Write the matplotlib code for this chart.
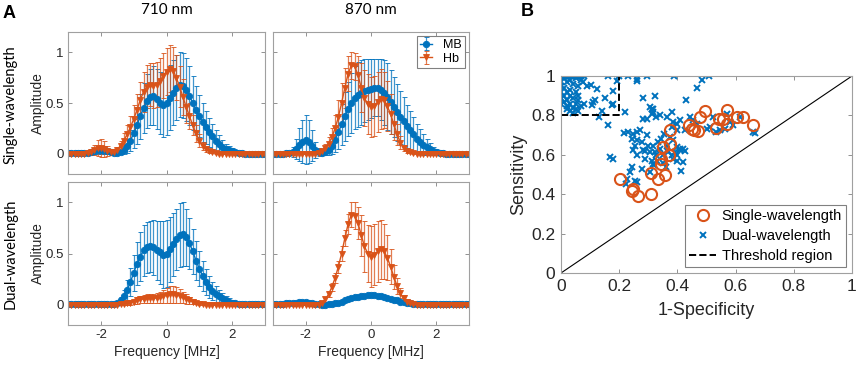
import numpy as np
from matplotlib import pyplot as plt

# colours (matlab defaults)
BLUE = "#0072BD"
ORANGE = "#D95319"
W, H = 858, 366

# frequency grid [MHz], 0.1 MHz steps
freq = np.linspace(-3, 3, 61)

# --- panel A data: mean amplitude and std per frequency ---
# 710 nm, single-wavelength
mb_710_single = [0.01, 0.01, 0.01, 0.01, 0.01, 0.01, 0.01, 0.02, 0.03, 0.04,
                 0.04, 0.04, 0.03, 0.02, 0.01, 0.01, 0.02, 0.04, 0.08, 0.13,
                 0.20, 0.28, 0.37, 0.45, 0.52, 0.56, 0.57, 0.54, 0.50, 0.48,
                 0.50, 0.55, 0.60, 0.65, 0.68, 0.67, 0.63, 0.57, 0.50, 0.43,
                 0.37, 0.31, 0.26, 0.21, 0.17, 0.13, 0.10, 0.07, 0.05, 0.04,
                 0.03, 0.02, 0.01, 0.01, 0.0, 0.0, 0.0, 0.0, 0.0, 0.0, 0.0]
mb_710_single_err = [0.005, 0.005, 0.005, 0.005, 0.005, 0.005, 0.01, 0.02, 0.03, 0.04,
                     0.04, 0.04, 0.03, 0.02, 0.01, 0.01, 0.02, 0.04, 0.07, 0.10,
                     0.14, 0.18, 0.22, 0.25, 0.27, 0.28, 0.29, 0.30, 0.31, 0.32,
                     0.32, 0.32, 0.32, 0.32, 0.32, 0.32, 0.31, 0.29, 0.27, 0.24,
                     0.21, 0.19, 0.16, 0.14, 0.12, 0.10, 0.08, 0.07, 0.05, 0.04,
                     0.03, 0.02, 0.01, 0.01, 0.005, 0.005, 0.005, 0.005, 0.005, 0.005, 0.005]
hb_710_single = [0.0, 0.0, 0.0, 0.0, 0.0, 0.0, 0.01, 0.02, 0.04, 0.06,
                 0.06, 0.05, 0.03, 0.02, 0.02, 0.04, 0.08, 0.13, 0.19, 0.26,
                 0.34, 0.43, 0.53, 0.61, 0.66, 0.68, 0.67, 0.68, 0.72, 0.77,
                 0.81, 0.84, 0.82, 0.75, 0.66, 0.56, 0.46, 0.37, 0.28, 0.20,
                 0.13, 0.08, 0.05, 0.03, 0.02, 0.01, 0.0, 0.0, 0.0, 0.0,
                 0.0, 0.0, 0.0, 0.0, 0.0, 0.0, 0.0, 0.0, 0.0, 0.0, 0.0]
hb_710_single_err = [0.005, 0.005, 0.005, 0.005, 0.005, 0.005, 0.01, 0.03, 0.05, 0.08,
                     0.09, 0.08, 0.05, 0.03, 0.02, 0.03, 0.05, 0.07, 0.09, 0.11,
                     0.14, 0.16, 0.18, 0.20, 0.21, 0.21, 0.22, 0.22, 0.22, 0.22,
                     0.23, 0.23, 0.23, 0.22, 0.20, 0.18, 0.16, 0.13, 0.10, 0.08,
                     0.06, 0.04, 0.03, 0.02, 0.01, 0.01, 0.005, 0.005, 0.005, 0.005,
                     0.005, 0.005, 0.005, 0.005, 0.005, 0.005, 0.005, 0.005, 0.005, 0.005, 0.005]

# 870 nm, single-wavelength
mb_870_single = [0.0, 0.0, 0.0, 0.0, 0.01, 0.01, 0.02, 0.05, 0.09, 0.12,
                 0.14, 0.12, 0.08, 0.04, 0.02, 0.01, 0.02, 0.04, 0.08, 0.14,
                 0.21, 0.29, 0.37, 0.44, 0.50, 0.55, 0.58, 0.60, 0.62, 0.63,
                 0.64, 0.65, 0.65, 0.63, 0.60, 0.56, 0.51, 0.46, 0.41, 0.36,
                 0.32, 0.27, 0.23, 0.19, 0.15, 0.12, 0.09, 0.07, 0.05, 0.03,
                 0.02, 0.01, 0.01, 0.0, 0.0, 0.0, 0.0, 0.0, 0.0, 0.0, 0.0]
mb_870_single_err = [0.005, 0.005, 0.005, 0.005, 0.01, 0.02, 0.05, 0.10, 0.16, 0.21,
                     0.24, 0.21, 0.15, 0.08, 0.04, 0.02, 0.03, 0.05, 0.08, 0.12,
                     0.16, 0.20, 0.24, 0.27, 0.30, 0.31, 0.32, 0.32, 0.31, 0.30,
                     0.29, 0.28, 0.28, 0.30, 0.32, 0.33, 0.32, 0.30, 0.28, 0.26,
                     0.24, 0.21, 0.19, 0.17, 0.14, 0.12, 0.10, 0.08, 0.06, 0.04,
                     0.03, 0.02, 0.01, 0.005, 0.005, 0.005, 0.005, 0.005, 0.005, 0.005, 0.005]
hb_870_single = [0.0, 0.0, 0.0, 0.0, 0.0, 0.0, 0.0, 0.0, 0.0, 0.0,
                 0.0, 0.0, 0.0, 0.0, 0.01, 0.03, 0.06, 0.10, 0.16, 0.25,
                 0.36, 0.50, 0.65, 0.79, 0.87, 0.86, 0.78, 0.65, 0.55, 0.49,
                 0.46, 0.47, 0.51, 0.54, 0.53, 0.47, 0.39, 0.29, 0.19, 0.11,
                 0.06, 0.03, 0.02, 0.01, 0.0, 0.0, 0.0, 0.0, 0.0, 0.0,
                 0.0, 0.0, 0.0, 0.0, 0.0, 0.0, 0.0, 0.0, 0.0, 0.0, 0.0]
hb_870_single_err = [0.005, 0.005, 0.005, 0.005, 0.005, 0.005, 0.005, 0.005, 0.005, 0.005,
                     0.005, 0.005, 0.005, 0.005, 0.01, 0.02, 0.04, 0.06, 0.09, 0.13,
                     0.17, 0.20, 0.20, 0.17, 0.13, 0.13, 0.18, 0.24, 0.28, 0.30,
                     0.30, 0.30, 0.30, 0.30, 0.28, 0.25, 0.20, 0.15, 0.10, 0.06,
                     0.03, 0.02, 0.01, 0.01, 0.005, 0.005, 0.005, 0.005, 0.005, 0.005,
                     0.005, 0.005, 0.005, 0.005, 0.005, 0.005, 0.005, 0.005, 0.005, 0.005, 0.005]

# 710 nm, dual-wavelength
mb_710_dual = [0.01, 0.01, 0.01, 0.01, 0.01, 0.01, 0.01, 0.01, 0.01, 0.01,
               0.01, 0.01, 0.01, 0.01, 0.01, 0.02, 0.04, 0.08, 0.14, 0.22,
               0.31, 0.40, 0.47, 0.53, 0.56, 0.57, 0.56, 0.53, 0.51, 0.49,
               0.50, 0.54, 0.59, 0.64, 0.68, 0.69, 0.66, 0.60, 0.52, 0.43,
               0.35, 0.28, 0.22, 0.17, 0.13, 0.10, 0.08, 0.06, 0.04, 0.03,
               0.02, 0.02, 0.01, 0.01, 0.01, 0.01, 0.01, 0.01, 0.01, 0.01, 0.01]
mb_710_dual_err = [0.005, 0.005, 0.005, 0.005, 0.005, 0.005, 0.005, 0.005, 0.005, 0.005,
                   0.005, 0.005, 0.005, 0.005, 0.005, 0.01, 0.03, 0.06, 0.10, 0.14,
                   0.18, 0.21, 0.24, 0.25, 0.25, 0.25, 0.27, 0.29, 0.31, 0.33,
                   0.33, 0.32, 0.31, 0.30, 0.31, 0.31, 0.28, 0.25, 0.22, 0.19,
                   0.17, 0.15, 0.13, 0.11, 0.09, 0.08, 0.06, 0.05, 0.04, 0.03,
                   0.02, 0.01, 0.01, 0.005, 0.005, 0.005, 0.005, 0.005, 0.005, 0.005, 0.005]
hb_710_dual = [0.0, 0.0, 0.0, 0.0, 0.0, 0.0, 0.0, 0.0, 0.0, 0.0,
               0.0, 0.0, 0.0, 0.0, 0.0, 0.0, 0.005, 0.01, 0.015, 0.02,
               0.03, 0.04, 0.05, 0.055, 0.06, 0.06, 0.06, 0.065, 0.07, 0.08,
               0.09, 0.10, 0.10, 0.095, 0.085, 0.07, 0.055, 0.04, 0.03, 0.02,
               0.01, 0.005, 0.0, 0.0, 0.0, 0.0, 0.0, 0.0, 0.0, 0.0,
               0.0, 0.0, 0.0, 0.0, 0.0, 0.0, 0.0, 0.0, 0.0, 0.0, 0.0]
hb_710_dual_err = [0.005, 0.005, 0.005, 0.005, 0.005, 0.005, 0.005, 0.005, 0.005, 0.005,
                   0.005, 0.005, 0.005, 0.005, 0.005, 0.005, 0.005, 0.01, 0.015, 0.02,
                   0.025, 0.03, 0.035, 0.04, 0.04, 0.04, 0.04, 0.045, 0.05, 0.06,
                   0.07, 0.08, 0.08, 0.075, 0.065, 0.055, 0.045, 0.035, 0.025, 0.015,
                   0.01, 0.005, 0.005, 0.005, 0.005, 0.005, 0.005, 0.005, 0.005, 0.005,
                   0.005, 0.005, 0.005, 0.005, 0.005, 0.005, 0.005, 0.005, 0.005, 0.005, 0.005]

# 870 nm, dual-wavelength
mb_870_dual = [0.01, 0.01, 0.01, 0.01, 0.015, 0.015, 0.02, 0.02, 0.025, 0.025,
               0.025, 0.02, 0.015, 0.01, 0.005, 0.0, 0.0, 0.005, 0.01, 0.015,
               0.02, 0.03, 0.04, 0.05, 0.06, 0.07, 0.075, 0.08, 0.085, 0.09,
               0.09, 0.09, 0.085, 0.08, 0.075, 0.065, 0.055, 0.045, 0.04, 0.03,
               0.025, 0.02, 0.015, 0.01, 0.01, 0.01, 0.01, 0.01, 0.01, 0.01,
               0.01, 0.01, 0.01, 0.01, 0.01, 0.01, 0.01, 0.01, 0.01, 0.01, 0.01]
mb_870_dual_err = [0.01, 0.01, 0.01, 0.01, 0.01, 0.01, 0.01, 0.01, 0.01, 0.01,
                   0.01, 0.01, 0.01, 0.01, 0.01, 0.01, 0.01, 0.01, 0.01, 0.01,
                   0.01, 0.01, 0.012, 0.012, 0.014, 0.014, 0.015, 0.015, 0.015, 0.015,
                   0.015, 0.015, 0.015, 0.015, 0.014, 0.014, 0.012, 0.012, 0.01, 0.01,
                   0.01, 0.01, 0.01, 0.01, 0.01, 0.01, 0.01, 0.01, 0.01, 0.01,
                   0.01, 0.01, 0.01, 0.01, 0.01, 0.01, 0.01, 0.01, 0.01, 0.01, 0.01]
hb_870_dual = [0.0, 0.0, 0.0, 0.0, 0.0, 0.0, 0.0, 0.0, 0.0, 0.0,
               0.0, 0.0, 0.0, 0.0, 0.0, 0.02, 0.05, 0.10, 0.17, 0.26,
               0.37, 0.50, 0.65, 0.79, 0.88, 0.87, 0.80, 0.68, 0.57, 0.50,
               0.47, 0.49, 0.52, 0.54, 0.52, 0.46, 0.37, 0.27, 0.18, 0.11,
               0.06, 0.03, 0.015, 0.005, 0.0, 0.0, 0.0, 0.0, 0.0, 0.0,
               0.0, 0.0, 0.0, 0.0, 0.0, 0.0, 0.0, 0.0, 0.0, 0.0, 0.0]
hb_870_dual_err = [0.005, 0.005, 0.005, 0.005, 0.005, 0.005, 0.005, 0.005, 0.005, 0.005,
                   0.005, 0.005, 0.005, 0.005, 0.005, 0.01, 0.02, 0.03, 0.04, 0.05,
                   0.06, 0.07, 0.08, 0.10, 0.12, 0.13, 0.16, 0.20, 0.25, 0.28,
                   0.30, 0.30, 0.30, 0.29, 0.27, 0.22, 0.17, 0.12, 0.08, 0.05,
                   0.03, 0.02, 0.01, 0.005, 0.005, 0.005, 0.005, 0.005, 0.005, 0.005,
                   0.005, 0.005, 0.005, 0.005, 0.005, 0.005, 0.005, 0.005, 0.005, 0.005, 0.005]

# --- panel B data: (1-specificity, sensitivity) ---
single_fpr = [0.203, 0.243, 0.248, 0.263, 0.309, 0.309, 0.334, 0.343, 0.345, 0.357,
              0.349, 0.371, 0.374, 0.374, 0.441, 0.449, 0.456, 0.471, 0.477, 0.494,
              0.534, 0.543, 0.557, 0.569, 0.572, 0.604, 0.627, 0.660]
single_tpr = [0.478, 0.415, 0.427, 0.393, 0.402, 0.508, 0.478, 0.554, 0.580, 0.495,
              0.639, 0.600, 0.656, 0.727, 0.749, 0.732, 0.724, 0.719, 0.792, 0.820,
              0.736, 0.783, 0.780, 0.758, 0.829, 0.792, 0.792, 0.753]

dual_fpr = [0.0, 0.005, 0.01, 0.015, 0.02, 0.025, 0.03, 0.035, 0.04, 0.045,
            0.05, 0.055, 0.06, 0.065, 0.07, 0.08, 0.16, 0.2, 0.231, 0.294,
            0.39, 0.51, 0.01, 0.03, 0.05, 0.07, 0.0, 0.02, 0.04, 0.06,
            0.0, 0.01, 0.03, 0.0, 0.02, 0.05, 0.01, 0.03, 0.0, 0.02,
            0.04, 0.06, 0.01, 0.03, 0.05, 0.0, 0.02, 0.04, 0.07, 0.08,
            0.05, 0.03, 0.06, 0.04, 0.02, 0.09, 0.06, 0.075, 0.11, 0.14,
            0.103, 0.122, 0.105, 0.117, 0.151, 0.13, 0.162, 0.18, 0.174, 0.177,
            0.191, 0.168, 0.177, 0.221, 0.262, 0.26, 0.283, 0.323, 0.311, 0.294,
            0.466, 0.483, 0.429, 0.217, 0.231, 0.248, 0.26, 0.243, 0.254, 0.248,
            0.26, 0.243, 0.254, 0.225, 0.26, 0.277, 0.283, 0.288, 0.294, 0.3,
            0.305, 0.311, 0.317, 0.305, 0.323, 0.328, 0.334, 0.34, 0.351, 0.363,
            0.368, 0.38, 0.386, 0.391, 0.397, 0.408, 0.42, 0.426, 0.414, 0.397,
            0.42, 0.386, 0.38, 0.363, 0.34, 0.328, 0.317, 0.305, 0.283, 0.271,
            0.311, 0.317, 0.397, 0.386, 0.38, 0.408, 0.426, 0.397, 0.443, 0.454,
            0.466, 0.5, 0.511, 0.523, 0.534, 0.546, 0.563, 0.569, 0.58, 0.592,
            0.614, 0.66, 0.666, 0.26, 0.277, 0.237, 0.228, 0.317, 0.343, 0.355,
            0.374, 0.35, 0.36, 0.33, 0.4, 0.41, 0.29, 0.32]
dual_tpr = [1.0, 1.0, 1.0, 1.0, 1.0, 1.0, 1.0, 1.0, 1.0, 1.0,
            1.0, 1.0, 1.0, 1.0, 1.0, 1.0, 1.0, 1.0, 1.0, 1.0,
            1.0, 1.0, 0.99, 0.98, 0.99, 0.98, 0.97, 0.97, 0.96, 0.95,
            0.95, 0.94, 0.93, 0.92, 0.92, 0.92, 0.90, 0.90, 0.89, 0.88,
            0.89, 0.88, 0.87, 0.86, 0.86, 0.86, 0.85, 0.84, 0.85, 0.86,
            0.83, 0.82, 0.82, 0.81, 0.83, 0.95, 0.90, 0.97, 0.87, 0.82,
            0.956, 0.936, 0.851, 0.876, 0.888, 0.79, 0.749, 0.859, 0.851, 0.922,
            0.975, 0.588, 0.58, 0.817, 0.986, 0.973, 0.89, 0.897, 0.834, 0.783,
            0.939, 0.978, 0.876, 0.71, 0.715, 0.707, 0.715, 0.681, 0.647, 0.622,
            0.597, 0.537, 0.469, 0.453, 0.461, 0.664, 0.622, 0.58, 0.698, 0.647,
            0.614, 0.571, 0.554, 0.512, 0.614, 0.597, 0.664, 0.631, 0.597, 0.647,
            0.614, 0.597, 0.58, 0.614, 0.639, 0.622, 0.631, 0.617, 0.52, 0.571,
            0.563, 0.673, 0.817, 0.792, 0.8, 0.792, 0.817, 0.842, 0.783, 0.724,
            0.808, 0.834, 0.758, 0.766, 0.741, 0.775, 0.727, 0.724, 0.792, 0.775,
            0.758, 0.732, 0.741, 0.792, 0.715, 0.724, 0.732, 0.808, 0.766, 0.749,
            0.792, 0.715, 0.71, 0.673, 0.529, 0.512, 0.478, 0.647, 0.681, 0.707,
            0.69, 0.56, 0.54, 0.57, 0.6, 0.63, 0.62, 0.55]


def px(x, y):
  """pixel position in the reference -> figure fraction"""
  return x / W, 1 - y / H


def style_axes(ax, tick_size, pad=3):
  for s in ax.spines.values():
    s.set_color("#a0a0a0")
    s.set_linewidth(0.8)
  ax.tick_params(direction="in", top=True, right=True, length=3,
                 width=0.6, color="#808080", labelsize=tick_size,
                 labelcolor="#262626", pad=pad)


def draw_spectrum(ax, mb, mb_err, hb, hb_err, left, bottom):
  kw = dict(elinewidth=0.9, capsize=1.8, capthick=0.8, lw=1.0, ms=4.6,
            markeredgewidth=0.6)
  c1 = ax.errorbar(freq, mb, yerr=mb_err, fmt="-o", color=BLUE, **kw)
  c2 = ax.errorbar(freq, hb, yerr=hb_err, fmt="-v", color=ORANGE, **kw)
  # soften the error bar lines a bit, like the exported matlab figure
  for cont in (c1, c2):
    for coll in cont[2]:
      coll.set_alpha(0.75)
  ax.set_xlim(-3, 3)
  ax.set_ylim(-0.2, 1.2)
  ax.set_xticks([-2, 0, 2])
  ax.set_yticks([0, 0.5, 1])
  ax.set_yticklabels(["0", "0.5", "1"])
  style_axes(ax, 9.5)
  ax.tick_params(labelleft=left, labelbottom=bottom)
  return c1, c2


def main():
  plt.rcParams["font.family"] = ["Liberation Sans", "DejaVu Sans"]
  plt.rcParams["axes.unicode_minus"] = False
  fig = plt.figure(figsize=(W / 100, H / 100), dpi=100)
  side = ["Lato", "DejaVu Sans"]

  # panel A, 2x2 grid (positions measured in reference pixels)
  cols = [(68, 265), (273, 469)]
  rows = [(32, 174), (182, 325)]
  data = [[(mb_710_single, mb_710_single_err, hb_710_single, hb_710_single_err),
           (mb_870_single, mb_870_single_err, hb_870_single, hb_870_single_err)],
          [(mb_710_dual, mb_710_dual_err, hb_710_dual, hb_710_dual_err),
           (mb_870_dual, mb_870_dual_err, hb_870_dual, hb_870_dual_err)]]
  for r, (y0, y1) in enumerate(rows):
    for c, (x0, x1) in enumerate(cols):
      ax = fig.add_axes([x0 / W, 1 - y1 / H, (x1 - x0) / W, (y1 - y0) / H])
      h = draw_spectrum(ax, *data[r][c], left=(c == 0), bottom=(r == 1))
      if r == 0 and c == 1:
        leg = ax.legend(h, ["MB", "Hb"], loc="upper right", fontsize=9,
                        fancybox=False, edgecolor="#808080", framealpha=1,
                        borderpad=0.25, handlelength=1.0, handletextpad=0.9,
                        labelspacing=0.15, borderaxespad=0.3)
        leg.get_frame().set_linewidth(0.8)

  # panel A labels
  fig.text(*px(3, 13), "A", fontsize=13, fontweight="bold", va="center")
  fig.text(*px(167, 10), "710 nm", fontsize=11, ha="center", va="center",
           family=side)
  fig.text(*px(371, 10), "870 nm", fontsize=11, ha="center", va="center",
           family=side)
  fig.text(*px(11, 105), "Single-wavelength", fontsize=10.5, rotation=90,
           ha="center", va="center", family=side)
  fig.text(*px(11, 254), "Dual-wavelength", fontsize=10.5, rotation=90,
           ha="center", va="center", family=side)
  for yc in (103, 253):
    fig.text(*px(38, yc), "Amplitude", fontsize=10, rotation=90,
             ha="center", va="center", color="#262626")
  for xc in (167, 371):
    fig.text(*px(xc, 352), "Frequency [MHz]", fontsize=10, ha="center",
             va="center", color="#262626")

  # panel B, ROC-style scatter
  ax = fig.add_axes([561 / W, 1 - 273 / H, 291 / W, 197 / H])
  ax.plot([0, 1], [0, 1], color="black", lw=0.8)
  hd, = ax.plot(dual_fpr, dual_tpr, "x", color=BLUE, ms=4.5, mew=1.4)
  hs, = ax.plot(single_fpr, single_tpr, "o", color=ORANGE, mfc="none",
                ms=8, mew=1.5)
  ht, = ax.plot([0, 0.2, 0.2], [0.8, 0.8, 1.0], "--", color="black", lw=1.4)
  ax.set_xlim(0, 1)
  ax.set_ylim(0, 1)
  ticks = [0, 0.2, 0.4, 0.6, 0.8, 1]
  ax.set_xticks(ticks)
  ax.set_yticks(ticks)
  ax.set_xticklabels(["0", "0.2", "0.4", "0.6", "0.8", "1"])
  ax.set_yticklabels(["0", "0.2", "0.4", "0.6", "0.8", "1"])
  style_axes(ax, 12.5, pad=4)
  ax.set_xlabel("1-Specificity", fontsize=13, color="#262626", labelpad=6)
  ax.set_ylabel("Sensitivity", fontsize=13, color="#262626", labelpad=3)
  leg = ax.legend([hs, hd, ht], ["Single-wavelength", "Dual-wavelength",
                                 "Threshold region"],
                  loc="lower right", fontsize=10.5, fancybox=False,
                  edgecolor="#808080", framealpha=1, borderpad=0.3,
                  handlelength=1.8, handletextpad=0.4, labelspacing=0.4,
                  borderaxespad=0.4)
  leg.get_frame().set_linewidth(0.8)
  fig.text(*px(521, 12), "B", fontsize=13, fontweight="bold", va="center")

  fig.savefig("out.png", dpi=100)


if __name__ == "__main__":
  main()
